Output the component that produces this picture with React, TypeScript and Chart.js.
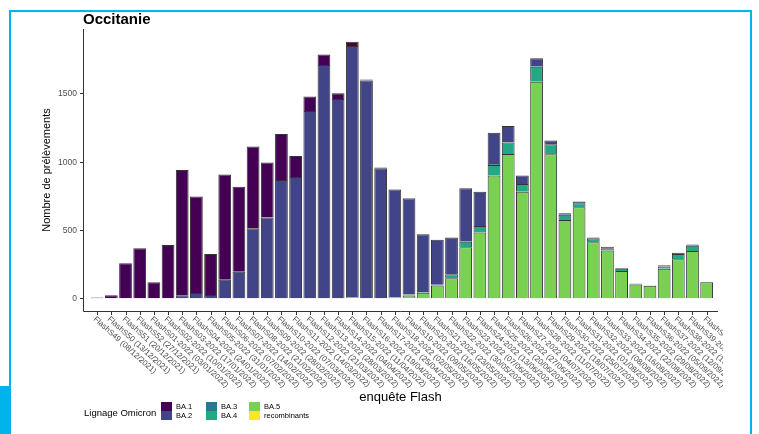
import React, { useEffect, useRef } from "react";
import { Chart, registerables } from "chart.js";

Chart.register(...registerables);

// Survey weeks (enquête Flash)
const weeks = [
  "FlashS49 (08/12/2021)",
  "FlashS50 (13/12/2021)",
  "FlashS51 (20/12/2021)",
  "FlashS52 (27/12/2021)",
  "FlashS01-2022 (03/01/2022)",
  "FlashS02-2022 (10/01/2022)",
  "FlashS03-2022 (17/01/2022)",
  "FlashS04-2022 (24/01/2022)",
  "FlashS05-2022 (31/01/2022)",
  "FlashS06-2022 (07/02/2022)",
  "FlashS07-2022 (14/02/2022)",
  "FlashS08-2022 (21/02/2022)",
  "FlashS09-2022 (28/02/2022)",
  "FlashS10-2022 (07/03/2022)",
  "FlashS11-2022 (14/03/2022)",
  "FlashS12-2022 (21/03/2022)",
  "FlashS13-2022 (28/03/2022)",
  "FlashS14-2022 (04/04/2022)",
  "FlashS15-2022 (11/04/2022)",
  "FlashS16-2022 (19/04/2022)",
  "FlashS17-2022 (25/04/2022)",
  "FlashS18-2022 (02/05/2022)",
  "FlashS19-2022 (09/05/2022)",
  "FlashS20-2022 (16/05/2022)",
  "FlashS21-2022 (23/05/2022)",
  "FlashS22-2022 (30/05/2022)",
  "FlashS23-2022 (07/06/2022)",
  "FlashS24-2022 (13/06/2022)",
  "FlashS25-2022 (20/06/2022)",
  "FlashS26-2022 (27/06/2022)",
  "FlashS27-2022 (04/07/2022)",
  "FlashS28-2022 (11/07/2022)",
  "FlashS29-2022 (18/07/2022)",
  "FlashS30-2022 (25/07/2022)",
  "FlashS31-2022 (01/08/2022)",
  "FlashS32-2022 (08/08/2022)",
  "FlashS33-2022 (16/08/2022)",
  "FlashS34-2022 (22/08/2022)",
  "FlashS35-2022 (29/08/2022)",
  "FlashS36-2022 (05/09/2022)",
  "FlashS37-2022 (12/09/2022)",
  "FlashS38-2022 (19/09/2022)",
  "FlashS39-2022 (26/09/2022)",
  "FlashS40-2022 (03/10/2022)",
];

// Number of samples per Omicron lineage, one value per week
const ba1 = [
  5, 22, 256, 366, 117, 388, 917, 707, 300, 771, 622, 598, 403, 336, 153, 105,
  78, 41, 32, 8, 5, 3, 4, 0, 0, 0, 0, 0, 0, 0, 0, 0, 0, 0, 0, 0, 0, 0, 0, 0, 0,
  0, 0, 0,
];
const ba2 = [
  0, 0, 0, 0, 0, 2, 22, 37, 24, 134, 193, 512, 590, 866, 888, 1371, 1707, 1459,
  1842, 1594, 952, 790, 704, 423, 329, 269, 386, 251, 230, 117, 62, 56, 27, 12,
  12, 5, 10, 4, 2, 0, 9, 8, 10, 0,
];
const ba3 = [
  0, 0, 0, 0, 0, 0, 0, 0, 0, 0, 0, 0, 0, 0, 0, 0, 0, 0, 0, 0, 0, 0, 0, 0, 0, 0,
  5, 0, 6, 5, 0, 5, 0, 0, 0, 0, 0, 0, 0, 0, 0, 0, 0, 0,
];
const ba4 = [
  0, 0, 0, 0, 0, 0, 0, 0, 0, 0, 0, 0, 0, 0, 0, 0, 0, 0, 0, 0, 0, 3, 6, 5, 5, 29,
  41, 49, 78, 83, 56, 110, 73, 37, 29, 29, 17, 18, 5, 3, 17, 39, 37, 2,
];
const ba5 = [
  0, 0, 0, 0, 0, 0, 0, 0, 0, 0, 0, 0, 0, 0, 0, 0, 0, 0, 0, 0, 0, 2, 20, 40, 93,
  146, 373, 480, 898, 1056, 780, 1585, 1054, 573, 666, 410, 349, 198, 100, 90,
  215, 285, 346, 117,
];
const recombinants = [
  0, 0, 0, 0, 0, 0, 0, 0, 0, 0, 0, 0, 0, 0, 0, 0, 0, 0, 4, 0, 0, 0, 0, 0, 0, 0,
  0, 0, 0, 0, 0, 0, 0, 0, 0, 0, 0, 0, 0, 0, 0, 0, 0, 0,
];

const yTicks = [0, 500, 1000, 1500];

const lineages = ["BA.1", "BA.2", "BA.3", "BA.4", "BA.5", "recombinants"];
const lineageColors = ["#440154", "#414487", "#2A788E", "#22A884", "#7AD151", "#FDE725"];

const FONT = "'Liberation Sans', Arial, Helvetica, sans-serif";
const FRAME = "#00b4ea";

const decorations = {
  id: "decorations",
  afterDraw(chart: any) {
    const { ctx, chartArea: a, scales } = chart;
    const xs = scales.x;
    const ys = scales.y;
    ctx.save();

    // slide frame
    ctx.fillStyle = FRAME;
    ctx.fillRect(9, 10, 743, 2);
    ctx.fillRect(9, 10, 2, 376);
    ctx.fillRect(750, 10, 2, 424);
    ctx.fillRect(0, 386, 11, 48);

    // axis lines
    ctx.strokeStyle = "#333333";
    ctx.lineWidth = 1;
    ctx.beginPath();
    ctx.moveTo(a.left + 0.5, a.top);
    ctx.lineTo(a.left + 0.5, a.bottom + 0.5);
    ctx.lineTo(a.right, a.bottom + 0.5);
    ctx.stroke();

    // y ticks + labels
    ctx.fillStyle = "#4d4d4d";
    ctx.font = `8.5px ${FONT}`;
    ctx.textAlign = "right";
    ctx.textBaseline = "middle";
    yTicks.forEach((v) => {
      const py = Math.round(ys.getPixelForValue(v)) + 0.5;
      ctx.beginPath();
      ctx.moveTo(a.left - 3, py);
      ctx.lineTo(a.left, py);
      ctx.stroke();
      ctx.fillText(String(v), a.left - 6, py);
    });

    // x ticks + rotated labels
    ctx.save();
    ctx.beginPath();
    ctx.rect(0, a.bottom + 1, 723, 434);
    ctx.clip();
    ctx.font = `8px ${FONT}`;
    ctx.textAlign = "left";
    ctx.textBaseline = "middle";
    weeks.forEach((w, i) => {
      const px = Math.round(xs.getPixelForValue(i)) + 0.5;
      ctx.beginPath();
      ctx.moveTo(px, a.bottom + 1);
      ctx.lineTo(px, a.bottom + 4);
      ctx.stroke();
      ctx.save();
      ctx.translate(px - 3, a.bottom + 7);
      ctx.rotate((42 * Math.PI) / 180);
      ctx.fillText(w, 0, 0);
      ctx.restore();
    });
    ctx.restore();

    // title
    ctx.fillStyle = "#000";
    ctx.font = `bold 15px ${FONT}`;
    ctx.textAlign = "left";
    ctx.textBaseline = "alphabetic";
    ctx.fillText("Occitanie", a.left, 24);

    // axis titles
    ctx.font = `13px ${FONT}`;
    ctx.textAlign = "center";
    ctx.textBaseline = "middle";
    ctx.fillText("enquête Flash", (a.left + a.right) / 2, 397);
    ctx.save();
    ctx.translate(47, (a.top + a.bottom) / 2);
    ctx.rotate(-Math.PI / 2);
    ctx.font = `11px ${FONT}`;
    ctx.fillText("Nombre de prélèvements", 0, 0);
    ctx.restore();

    // legend
    ctx.textAlign = "left";
    ctx.textBaseline = "middle";
    ctx.font = `9.5px ${FONT}`;
    ctx.fillText("Lignage Omicron", 84, 413);
    ctx.font = `7.5px ${FONT}`;
    const colX = [161, 206, 249];
    lineages.forEach((name, i) => {
      const col = Math.floor(i / 2);
      const row = i % 2;
      const sx = colX[col];
      const sy = 402 + row * 9;
      ctx.fillStyle = lineageColors[i];
      ctx.fillRect(sx, sy, 11, 9);
      ctx.fillStyle = "#000";
      ctx.fillText(name, sx + 15, sy + 4.5);
    });

    ctx.restore();
  },
};

export default function App() {
  const canvasRef = useRef<HTMLCanvasElement | null>(null);

  useEffect(() => {
    const canvas = canvasRef.current;
    if (!canvas) return;
    const series = [ba1, ba2, ba3, ba4, ba5, recombinants];
    // bottom of the stack first: recombinants, BA.5, ... BA.1 on top
    const order = [5, 4, 3, 2, 1, 0];
    const datasets = order.map((k) => ({
      label: lineages[k],
      data: series[k].map((v, i) => ({ x: i, y: v })),
      backgroundColor: lineageColors[k],
      borderColor: "rgba(30,30,30,0.9)",
      borderWidth: 1,
      borderSkipped: "bottom" as const,
      categoryPercentage: 0.9,
      barPercentage: 1,
    }));

    const chart = new Chart(canvas, {
      type: "bar",
      data: { datasets },
      options: {
        responsive: false,
        animation: false,
        layout: { padding: { left: 83, right: 41, top: 29, bottom: 123 } },
        plugins: {
          legend: { display: false },
          title: { display: false },
          tooltip: { enabled: false },
        },
        scales: {
          x: {
            type: "linear",
            stacked: true,
            offset: false,
            min: -1,
            max: 43.8,
            display: false,
          },
          y: { stacked: true, min: -94, max: 1971, display: false },
        },
      },
      plugins: [decorations],
    });
    return () => chart.destroy();
  }, []);

  return (
    <div style={{ position: "fixed", left: 0, top: 0, width: 759, height: 434, background: "#fff" }}>
      <canvas ref={canvasRef} width={759} height={434} style={{ display: "block" }} />
    </div>
  );
}
